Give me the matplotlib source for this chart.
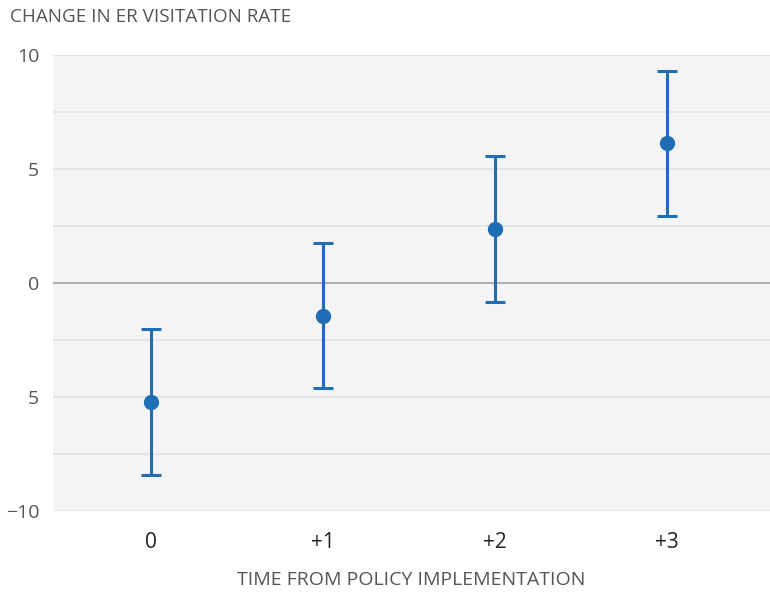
import matplotlib
matplotlib.use("Agg")
import matplotlib.pyplot as plt
import numpy as np

categories = ["0", "+1", "+2", "+3"]
estimates = [-5.2, -1.45, 2.37, 6.15]
upper = [-2.02, 1.75, 5.55, 9.32]
lower = [-8.42, -4.6, -0.83, 2.93]
ytick_vals = [10, 5, 0, -5, -10]
ytick_labels = ["10", "5", "0", "5", "\u221210"]

plt.rcParams['font.family'] = ['Open Sans', 'DejaVu Sans']

fig = plt.figure(figsize=(7.7, 5.92), dpi=100)
ax = fig.add_axes([53/770, (592-511)/592, (770-53)/770, (511-55)/592])
ax.set_facecolor('#f4f4f4')

x = np.arange(len(categories))
est = np.array(estimates)
yerr = np.vstack([est - np.array(lower), np.array(upper) - est])
color = '#1f6db5'
ax.errorbar(x, est, yerr=yerr, fmt='o', color=color, ecolor=color,
            markersize=10, elinewidth=2.2, capsize=7, capthick=2.2, zorder=3)

ax.set_ylim(-10, 10)
ax.set_xlim(-0.57, 3.6)
minor = [7.5, 2.5, -2.5, -7.5]
for v in ytick_vals + minor:
    if v == 0:
        ax.axhline(v, color='#a0a0a0', lw=1.2, zorder=1)
    else:
        ax.axhline(v, color='#e2e2e2', lw=1.2, zorder=1)

ax.set_yticks(ytick_vals)
ax.set_yticklabels(ytick_labels)
ax.set_xticks(x)
ax.set_xticklabels(categories)
ax.tick_params(axis='y', length=0, pad=10, labelsize=14, labelcolor='#555555')
ax.tick_params(axis='x', length=0, pad=15, labelsize=15, labelcolor='#222222')
for s in ax.spines.values():
    s.set_visible(False)

ax.set_xlabel("TIME FROM POLICY IMPLEMENTATION", fontsize=14, color='#555555', labelpad=13)
fig.text(10/770, 1 - 17/592, "CHANGE IN ER VISITATION RATE", fontsize=13.6, color='#555555',
         va='center', ha='left')

fig.savefig("out.png", dpi=100)
